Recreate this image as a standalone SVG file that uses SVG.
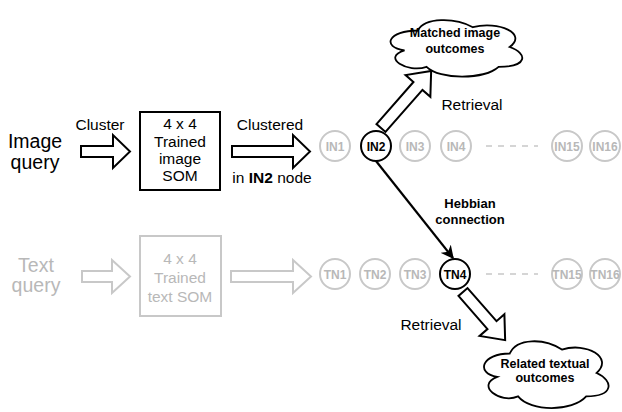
<svg xmlns="http://www.w3.org/2000/svg" width="622" height="412" viewBox="0 0 622 412">
<defs>
<style>
text{font-family:"Liberation Sans",Arial,sans-serif;text-anchor:middle}
.big{font-size:19.5px}
.lbl{font-size:15.5px}
.nb{font-size:12px;font-weight:bold}
.cb{font-size:12.5px;font-weight:bold}
.blk{fill:#000}
.gt{fill:#b8b8b8}
.barrow{fill:#fff;stroke:#000;stroke-width:2;stroke-linejoin:miter}
.garrow{fill:#fff;stroke:#c8c8c8;stroke-width:2}
.box{fill:#fff;stroke:#000;stroke-width:2}
.gbox{fill:#fff;stroke:#c8c8c8;stroke-width:2}
.gn{fill:#fff;stroke:#c8c8c8;stroke-width:2}
.bn{fill:#fff;stroke:#000;stroke-width:2}
.cloud{fill:#fff;stroke:#000;stroke-width:1.8}
</style>
<marker id="ah" viewBox="0 0 10 10" refX="9" refY="5" markerWidth="6" markerHeight="6" orient="auto" markerUnits="strokeWidth">
<path d="M0,0 L10,5 L0,10 L3,5 z" fill="#000"/>
</marker>
</defs>

<g id="image-query"><text class="big blk" x="35" y="148">Image</text><text class="big blk" x="35" y="169">query</text></g>
<g id="text-query"><text class="big gt" x="36" y="272">Text</text><text class="big gt" x="36" y="292">query</text></g>

<g id="image-som">
<rect class="box" x="140" y="112" width="80" height="78"/>
<text class="lbl blk" x="180" y="129">4 x 4</text>
<text class="lbl blk" x="180" y="146.5">Trained</text>
<text class="lbl blk" x="180" y="163.5">image</text>
<text class="lbl blk" x="180" y="181">SOM</text>
</g>
<g id="text-som">
<rect class="gbox" x="140" y="236" width="81" height="80"/>
<text class="lbl gt" x="180" y="264">4 x 4</text>
<text class="lbl gt" x="180" y="283">Trained</text>
<text class="lbl gt" x="180" y="301.5">text SOM</text>
</g>

<g id="labels">
<text class="lbl blk" x="100" y="130">Cluster</text>
<text class="lbl blk" x="270" y="130">Clustered</text>
<text class="lbl blk" x="272" y="183">in <tspan font-weight="bold">IN2</tspan> node</text>
<text class="lbl blk" x="472" y="110">Retrieval</text>
<text class="lbl blk" x="431" y="330">Retrieval</text>
<text class="blk" x="470" y="208" font-size="13" font-weight="bold">Hebbian</text>
<text class="blk" x="470" y="224" font-size="13" font-weight="bold">connection</text>
</g>

<g id="connectors">
<polygon class="barrow" points="81,146 113,146 113,135 130,151.5 113,168 113,157 81,157"/>
<polygon class="barrow" points="232,146 293,146 293,135 310,151.5 293,168 293,157 232,157"/>
<polygon class="garrow" points="82,271 112,271 112,260 130,276.5 112,293 112,282 82,282"/>
<polygon class="garrow" points="231,271 293,271 293,260 311,276.5 293,293 293,282 231,282"/>
<polygon class="barrow" transform="translate(381,128) rotate(-48.7)" points="0,-6 56,-6 56,-16.5 76,0 56,16.5 56,6 0,6"/>
<polygon class="barrow" transform="translate(463,292) rotate(48.8)" points="0,-6 44,-6 44,-16.5 64,0 44,16.5 44,6 0,6"/>
<line x1="376" y1="161" x2="453" y2="258" stroke="#000" stroke-width="2.2" marker-end="url(#ah)"/>
<line x1="486" y1="146" x2="538" y2="146" stroke="#c8c8c8" stroke-width="1.5" stroke-dasharray="6,6"/>
<line x1="486" y1="274" x2="538" y2="274" stroke="#c8c8c8" stroke-width="1.5" stroke-dasharray="6,6"/>
</g>

<g id="IN1"><circle class="gn" cx="335" cy="146" r="15"/><text class="nb gt" x="335" y="150.5">IN1</text></g>
<g id="IN2"><circle class="bn" cx="376" cy="146" r="15"/><text class="nb blk" x="376" y="150.5">IN2</text></g>
<g id="IN3"><circle class="gn" cx="415" cy="146" r="15"/><text class="nb gt" x="415" y="150.5">IN3</text></g>
<g id="IN4"><circle class="gn" cx="456" cy="146" r="15"/><text class="nb gt" x="456" y="150.5">IN4</text></g>
<g id="IN15"><circle class="gn" cx="567" cy="146" r="15"/><text class="nb gt" x="567" y="150.5">IN15</text></g>
<g id="IN16"><circle class="gn" cx="605" cy="146" r="15"/><text class="nb gt" x="605" y="150.5">IN16</text></g>

<g id="TN1"><circle class="gn" cx="335" cy="274" r="15"/><text class="nb gt" x="335" y="278.5">TN1</text></g>
<g id="TN2"><circle class="gn" cx="375" cy="274" r="15"/><text class="nb gt" x="375" y="278.5">TN2</text></g>
<g id="TN3"><circle class="gn" cx="415" cy="274" r="15"/><text class="nb gt" x="415" y="278.5">TN3</text></g>
<g id="TN4"><circle class="bn" cx="455" cy="274" r="15"/><text class="nb blk" x="455" y="278.5">TN4</text></g>
<g id="TN15"><circle class="gn" cx="567" cy="274" r="15"/><text class="nb gt" x="567" y="278.5">TN15</text></g>
<g id="TN16"><circle class="gn" cx="605" cy="274" r="15"/><text class="nb gt" x="605" y="278.5">TN16</text></g>

<g id="cloud-image">
<path class="cloud" transform="translate(381,14) scale(147,66)" vector-effect="non-scaling-stroke" d="M0.25,0.25 C0.05,0.25 0,0.5 0.16,0.55 C0,0.66 0.18,0.9 0.31,0.8 C0.4,1 0.7,1 0.8,0.8 C1,0.8 1,0.6 0.875,0.5 C1,0.3 0.8,0.1 0.625,0.2 C0.5,0.05 0.3,0.05 0.25,0.25 Z"/>
<text class="cb blk" x="455" y="37">Matched image</text>
<text class="cb blk" x="455" y="53">outcomes</text>
</g>
<g id="cloud-text">
<path class="cloud" transform="translate(475,334) scale(139,78)" vector-effect="non-scaling-stroke" d="M0.25,0.25 C0.05,0.25 0,0.5 0.16,0.55 C0,0.66 0.18,0.9 0.31,0.8 C0.4,1 0.7,1 0.8,0.8 C1,0.8 1,0.6 0.875,0.5 C1,0.3 0.8,0.1 0.625,0.2 C0.5,0.05 0.3,0.05 0.25,0.25 Z"/>
<text class="cb blk" x="545" y="368">Related textual</text>
<text class="cb blk" x="545" y="382">outcomes</text>
</g>
</svg>
